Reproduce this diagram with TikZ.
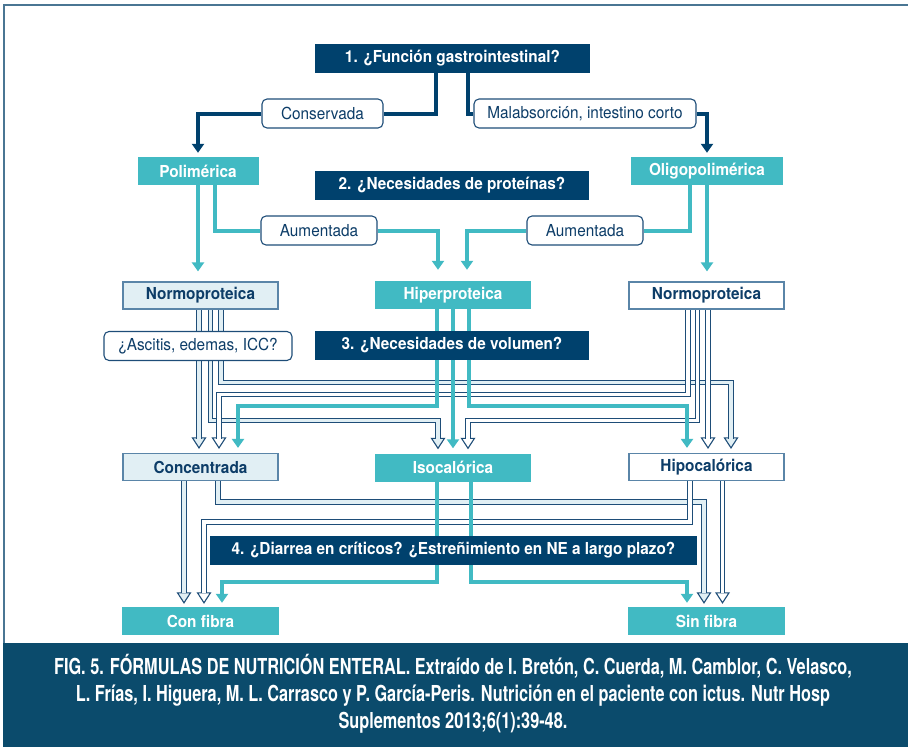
\documentclass[tikz,border=0pt]{standalone}
\usepackage{fontspec}
\setmainfont{TeX Gyre Heros}[FakeStretch=0.93]
\newfontfamily\capfont{TeX Gyre Heros}[FakeStretch=0.74]
\usetikzlibrary{arrows.meta}
\pgfdeclarelayer{bg}
\pgfsetlayers{bg,main}

\definecolor{cNavy}{HTML}{00416D}
\definecolor{cBand}{HTML}{0B4B6C}
\definecolor{cFrame}{HTML}{4A7693}
\definecolor{cTeal}{HTML}{41BAC3}
\definecolor{cLight}{HTML}{E1EFF4}
\definecolor{cLine}{HTML}{1E4D78}
\definecolor{cEdge}{HTML}{5A85A8}
\definecolor{cText}{HTML}{0D3D68}

\newcommand\boxfont{\fontsize{16.5}{19}\selectfont}
% open arrow head with its tip at #2, filled with #1
\newcommand\hollowtip[2]{%
  \filldraw[draw=cLine, fill=#1, line width=1.1pt, line join=miter]
    #2 -- ++(-6.5,-10) -- ++(13,0) -- cycle;}
% double-line connector: fill colour, start, route, tip point
\newcommand\hconn[4]{%
  \hollowtip{#1}{#4}%
  \draw[hollow, double=#1] #2 #3 #4;}

\tikzset{
  base/.style={inner sep=0pt, font=\boxfont},
  qbox/.style={base, fill=cNavy, text=white, font=\boxfont\bfseries, minimum height=29pt},
  tbox/.style={base, fill=cTeal, text=white, font=\boxfont\bfseries, minimum height=28pt},
  lbox/.style={base, fill=cLight, draw=cEdge, line width=1.2pt, text=cText, font=\boxfont\bfseries, minimum height=27pt},
  wbox/.style={base, fill=white, draw=cEdge, line width=1.2pt, text=cText, font=\boxfont\bfseries, minimum height=27pt},
  rbox/.style={base, fill=white, draw=cLine, line width=1.1pt, rounded corners=5pt, text=cText, minimum height=29pt},
  navyline/.style={draw=cNavy, line width=4pt},
  navyarrow/.style={navyline, -{Triangle[length=9pt,width=12pt]}, shorten >=4pt},
  tealline/.style={draw=cTeal, line width=4pt},
  tealarrow/.style={tealline, -{Triangle[length=9pt,width=12pt]}},
  hollow/.style={draw=cLine, line width=1.1pt, double distance=3.4pt, shorten >=9.4pt},
}

\begin{document}
\begin{tikzpicture}[x=1pt, y=-1pt]
\useasboundingbox (0,0) rectangle (908,747);
% frame and caption band
\draw[cFrame, line width=2.5pt] (4,643) -- (4,5) -- (908,5);
\fill[cBand] (3,643) rectangle (908,747);

% step 1
\node[qbox, minimum width=275pt] (q1) at (452.5,58.5) {1. ¿Función gastrointestinal?};
\node[rbox, minimum width=121pt] (cons) at (322.5,113.5) {Conservada};
\node[rbox, minimum width=222pt] (malab) at (585,113.5) {Malabsorción, intestino corto};
\node[tbox, minimum width=121pt] (poli) at (198,171) {Polimérica};
\node[tbox, minimum width=152pt] (oligo) at (707,171) {Oligopolimérica};
% step 2
\node[qbox, minimum width=274pt] (q2) at (452,185.5) {2. ¿Necesidades de proteínas?};
\node[rbox, minimum width=116pt] (aumL) at (319,230.5) {Aumentada};
\node[rbox, minimum width=116pt] (aumR) at (585,230.5) {Aumentada};
\node[lbox, minimum width=155pt] (nl) at (200.5,295.5) {Normoproteica};
\node[tbox, minimum width=156pt] (hiper) at (453,295) {Hiperproteica};
\node[wbox, minimum width=155pt] (nr) at (706.5,295.5) {Normoproteica};
% step 3
\node[rbox, minimum width=188pt] (asc) at (198,346) {¿Ascitis, edemas, ICC?};
\node[qbox, minimum width=274pt] (q3) at (452,345.5) {3. ¿Necesidades de volumen?};
\node[lbox, minimum width=155pt] (conc) at (200.5,467) {Concentrada};
\node[tbox, minimum width=156pt] (iso) at (453,467.5) {Isocalórica};
\node[wbox, minimum width=155pt] (hipo) at (706.5,467) {Hipocalórica};
% step 4
\node[qbox, minimum width=487pt] (q4) at (453.5,550.5) {4. ¿Diarrea en críticos? ¿Estreñimiento en NE a largo plazo?};
\node[tbox, minimum width=157pt] (cfib) at (200.5,621) {Con fibra};
\node[tbox, minimum width=157pt] (sfib) at (706.5,621) {Sin fibra};

% caption
\node[text=white, align=center, font=\capfont\bfseries\fontsize{22}{27}\selectfont] (cap) at (453,694)
  {FIG. 5. FÓRMULAS DE NUTRICIÓN ENTERAL. Extraído de I. Bretón, C. Cuerda, M. Camblor, C. Velasco,\\
   L. Frías, I. Higuera, M. L. Carrasco y P. García-Peris. Nutrición en el paciente con ictus. Nutr Hosp\\
   Suplementos 2013;6(1):39-48.};

\begin{pgfonlayer}{bg}
% gastrointestinal function
\draw[navyline] ([xshift=-16.5pt]q1.south) |- (cons.east);
\draw[navyarrow] (cons.west) -| (poli.north);
\draw[navyline] ([xshift=15.5pt]q1.south) |- (malab.west);
\draw[navyarrow] (malab.east) -| (oligo.north);
% protein needs
\draw[tealarrow, shorten >=10pt] (poli.south) -- (poli.south |- nl.north);
\draw[tealline] ([xshift=17pt]poli.south) |- (aumL.west);
\draw[tealarrow, shorten >=11pt] (aumL.east) -| ([xshift=-15pt]hiper.north);
\draw[tealline] ([xshift=-17pt]oligo.south) |- (aumR.east);
\draw[tealarrow, shorten >=11pt] (aumR.west) -| ([xshift=14pt]hiper.north);
\draw[tealarrow, shorten >=10pt] (oligo.south) -- (oligo.south |- nr.north);
% volume needs
\hconn{cLight}{([xshift=-1.5pt]nl.south)}{--}{([xshift=-1.5pt,yshift=5pt]conc.north)}
\hconn{cLight}{([xshift=10pt]nl.south)}{-- ++(0,111) -|}{([xshift=-15pt,yshift=5pt]iso.north)}
\hconn{cLight}{([xshift=20.5pt]nl.south)}{-- ++(0,73) -|}{([xshift=24.5pt,yshift=5pt]hipo.north)}
\hconn{white}{([xshift=-18.5pt]nr.south)}{-- ++(0,85) -|}{([xshift=18.5pt,yshift=5pt]conc.north)}
\hconn{white}{([xshift=-9pt]nr.south)}{-- ++(0,111) -|}{([xshift=15pt,yshift=5pt]iso.north)}
\hconn{white}{([xshift=1.5pt]nr.south)}{--}{([xshift=1.5pt,yshift=5pt]hipo.north)}
\draw[tealarrow, shorten >=5pt] ([xshift=-16pt]hiper.south) -- ++(0,97) -| ([xshift=37.5pt]conc.north);
\draw[tealarrow, shorten >=5pt] (hiper.south) -- (iso.north);
\draw[tealarrow, shorten >=5pt] ([xshift=16pt]hiper.south) -- ++(0,97) -| ([xshift=-19.5pt]hipo.north);
% fibre
\hconn{cLight}{([xshift=-16.5pt]conc.south)}{--}{([xshift=-16.5pt,yshift=4pt]cfib.north)}
\hconn{cLight}{([xshift=17.5pt]conc.south)}{-- ++(0,21) -|}{([xshift=-2.5pt,yshift=4pt]sfib.north)}
\hconn{white}{([xshift=-16.5pt]hipo.south)}{-- ++(0,41) -|}{([xshift=3.5pt,yshift=4pt]cfib.north)}
\hconn{white}{([xshift=16pt]hipo.south)}{--}{([xshift=16pt,yshift=4pt]sfib.north)}
\draw[tealarrow, shorten >=4pt] ([xshift=-16pt]iso.south) -- ++(0,100) -| ([xshift=21.5pt]cfib.north);
\draw[tealarrow, shorten >=4pt] ([xshift=18pt]iso.south) -- ++(0,100) -| ([xshift=-19.5pt]sfib.north);
\end{pgfonlayer}
\end{tikzpicture}
\end{document}
